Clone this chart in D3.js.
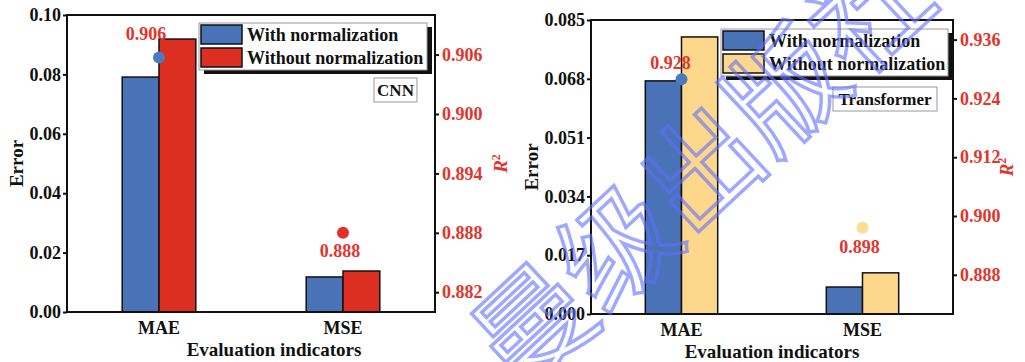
<!DOCTYPE html>
<html>
<head>
<meta charset="utf-8">
<script src="https://cdn.jsdelivr.net/npm/d3@7"></script>
<style>
  body { margin: 0; background: #fff; }
  svg { display: block; }
  text { font-family: "Liberation Serif", "Times New Roman", serif; font-weight: bold; }
</style>
</head>
<body>
<div id="chart"></div>
<script>
// data
const categories = ["MAE", "MSE"];
const seriesNames = ["With normalization", "Without normalization"];

const cnnWith = [0.0791, 0.0118];
const cnnWithout = [0.0919, 0.0138];
const cnnR2 = [0.9057, 0.8880];
const cnnR2Series = [0, 1];   // which series colour each R2 dot uses
const cnnErrorTicks = [0.00, 0.02, 0.04, 0.06, 0.08, 0.10];
const cnnR2Ticks = [0.882, 0.888, 0.894, 0.900, 0.906];

const trWith = [0.0674, 0.0078];
const trWithout = [0.0801, 0.0119];
const trR2 = [0.9279, 0.8976];
const trR2Series = [0, 1];
const trErrorTicks = [0.000, 0.017, 0.034, 0.051, 0.068, 0.085];
const trR2Ticks = [0.888, 0.900, 0.912, 0.924, 0.936];

const width = 1025, height = 362;
const blue = "#4a72b6", red = "#dc2e21", yellow = "#fdd78c";
const redText = "#e3342b";

const svg = d3.select("#chart").append("svg")
  .attr("width", width)
  .attr("height", height);

function drawPanel(p) {
  const w = p.x1 - p.x0, h = p.y1 - p.y0;
  const g = svg.append("g").attr("transform", `translate(${p.x0},${p.y0})`);

  const x = d3.scaleBand().domain(categories).range([0, w])
    .paddingInner(0.6).paddingOuter(0.3);
  const xs = d3.scaleBand().domain(seriesNames).range([0, x.bandwidth()]);
  const y = d3.scaleLinear().domain(p.errDomain).range([h, 0]);
  const yr = d3.scaleLinear().domain(p.r2Domain).range([h, 0]);
  const colors = [blue, p.altColor];
  const dotColors = [p.dotBlue, p.dotAlt];

  const rows = categories.map((c, i) => ({ cat: c, vals: [p.withVals[i], p.withoutVals[i]] }));

  // bars
  const grp = g.selectAll("g.cat").data(rows).join("g")
    .attr("transform", d => `translate(${x(d.cat)},0)`);
  grp.selectAll("rect")
    .data(d => d.vals.map((v, j) => ({ name: seriesNames[j], v, j })))
    .join("rect")
    .attr("x", d => xs(d.name))
    .attr("y", d => y(d.v))
    .attr("width", xs.bandwidth())
    .attr("height", d => h - y(d.v))
    .attr("fill", d => colors[d.j])
    .attr("stroke", "#111")
    .attr("stroke-width", 1.5);

  // axes
  const fmt = d3.format(p.errFmt);
  const yAxis = g.append("g")
    .call(d3.axisLeft(y).tickValues(p.errTicks).tickFormat(fmt).tickSize(4).tickPadding(2));
  yAxis.select(".domain").remove();
  yAxis.selectAll("line").attr("stroke", "#111").attr("stroke-width", 2);
  yAxis.selectAll("text").attr("font-size", 18).attr("fill", "#111");

  const rAxis = g.append("g").attr("transform", `translate(${w},0)`)
    .call(d3.axisRight(yr).tickValues(p.r2Ticks).tickFormat(d3.format(".3f")).tickSize(4).tickPadding(3));
  rAxis.select(".domain").remove();
  rAxis.selectAll("line").attr("stroke", "#111").attr("stroke-width", 2);
  rAxis.selectAll("text").attr("font-size", 18).attr("fill", redText);

  const xAxis = g.append("g").attr("transform", `translate(0,${h})`)
    .call(d3.axisBottom(x).tickSize(0).tickPadding(0));
  xAxis.select(".domain").remove();
  xAxis.selectAll("text").attr("font-size", 18).attr("fill", "#111")
    .attr("dy", 0).attr("y", 22);

  // frame
  g.append("rect")
    .attr("width", w).attr("height", h)
    .attr("fill", "none").attr("stroke", "#111").attr("stroke-width", 2);

  // R2 dots and labels
  const pts = categories.map((c, i) => ({ cat: c, v: p.r2Vals[i], s: p.r2Series[i], i }));
  g.selectAll("circle.r2").data(pts).join("circle")
    .attr("class", "r2")
    .attr("cx", d => x(d.cat) + x.bandwidth() / 2)
    .attr("cy", d => yr(d.v))
    .attr("r", 6)
    .attr("fill", d => dotColors[d.s]);
  g.selectAll("text.r2lab").data(pts).join("text")
    .attr("class", "r2lab")
    .attr("x", d => x(d.cat) + x.bandwidth() / 2 + p.labOff[d.i][0])
    .attr("y", d => yr(d.v) + p.labOff[d.i][1])
    .attr("text-anchor", "middle")
    .attr("font-size", 18)
    .attr("fill", redText)
    .text(d => d3.format(".3f")(d.v));

  // axis titles
  g.append("text")
    .attr("transform", `translate(${p.errTitleX},${h / 2}) rotate(-90)`)
    .attr("text-anchor", "middle")
    .attr("font-size", 19)
    .attr("fill", "#111")
    .text("Error");
  const r2t = g.append("text")
    .attr("transform", `translate(${w + p.r2TitleX},${h / 2}) rotate(-90)`)
    .attr("text-anchor", "middle")
    .attr("font-size", 19)
    .attr("fill", redText)
    .attr("font-style", "italic");
  r2t.append("tspan").text("R");
  r2t.append("tspan").attr("font-size", 12).attr("dy", -7).attr("font-style", "normal").text("2");
  g.append("text")
    .attr("x", w / 2 + p.evalDx)
    .attr("y", h + 44)
    .attr("text-anchor", "middle")
    .attr("font-size", 19)
    .attr("fill", "#111")
    .text("Evaluation indicators");

  // legend
  const lg = g.append("g").attr("transform", `translate(${p.legX},${p.legY})`);
  lg.append("rect").attr("x", 5).attr("y", 4).attr("width", p.legW).attr("height", 47).attr("fill", "#111");
  lg.append("rect").attr("width", p.legW).attr("height", 47)
    .attr("fill", "#fff").attr("stroke", "#999").attr("stroke-width", 1);
  const items = lg.selectAll("g.item").data(seriesNames).join("g")
    .attr("transform", (d, i) => `translate(2,${2 + i * 23})`);
  items.append("rect")
    .attr("width", 41).attr("height", 19)
    .attr("fill", (d, i) => colors[i])
    .attr("stroke", "#111").attr("stroke-width", 1.5);
  items.append("text")
    .attr("x", 46).attr("y", 16)
    .attr("font-size", 18)
    .attr("fill", "#111")
    .text(d => d);

  // model tag
  const tg = g.append("g").attr("transform", `translate(${p.tagX},${p.tagY})`);
  tg.append("rect").attr("width", p.tagW).attr("height", 24)
    .attr("fill", "#fff").attr("stroke", "#aaa").attr("stroke-width", 1.2);
  tg.append("text").attr("x", p.tagW / 2).attr("y", 18)
    .attr("text-anchor", "middle").attr("font-size", 17).attr("fill", "#111")
    .text(p.tag);
}

drawPanel({
  x0: 67, y0: 15, x1: 435, y1: 312,
  errDomain: [0, 0.10], errTicks: cnnErrorTicks, errFmt: ".2f",
  r2Domain: [0.880, 0.910], r2Ticks: cnnR2Ticks,
  withVals: cnnWith, withoutVals: cnnWithout,
  r2Vals: cnnR2, r2Series: cnnR2Series,
  altColor: red, dotBlue: "#4d7abf", dotAlt: "#e2302a",
  labOff: [[-13, -18], [-3, 24]],
  errTitleX: -44, r2TitleX: 72, evalDx: 23,
  legX: 132, legY: 8, legW: 228,
  tagX: 307, tagY: 63, tagW: 43, tag: "CNN"
});

drawPanel({
  x0: 591, y0: 20, x1: 953, y1: 314,
  errDomain: [0, 0.085], errTicks: trErrorTicks, errFmt: ".3f",
  r2Domain: [0.880, 0.940], r2Ticks: trR2Ticks,
  withVals: trWith, withoutVals: trWithout,
  r2Vals: trR2, r2Series: trR2Series,
  altColor: yellow, dotBlue: "#4d7abf", dotAlt: "#fddc96",
  labOff: [[-11, -10], [-3, 25]],
  errTitleX: -53, r2TitleX: 60, evalDx: 0,
  legX: 130, legY: 9, legW: 227,
  tagX: 242, tagY: 67, tagW: 104, tag: "Transformer"
});

// watermark
svg.append("text")
  .attr("transform", "translate(520,395) rotate(-43)")
  .attr("font-size", 115)
  .attr("fill", "none")
  .attr("stroke", "#6170ff")
  .attr("stroke-width", 3.5)
  .attr("opacity", 0.6)
  .style("font-family", "Noto Sans CJK SC")
  .style("font-weight", "normal")
  .text("曼级出版社");
</script>
</body>
</html>
